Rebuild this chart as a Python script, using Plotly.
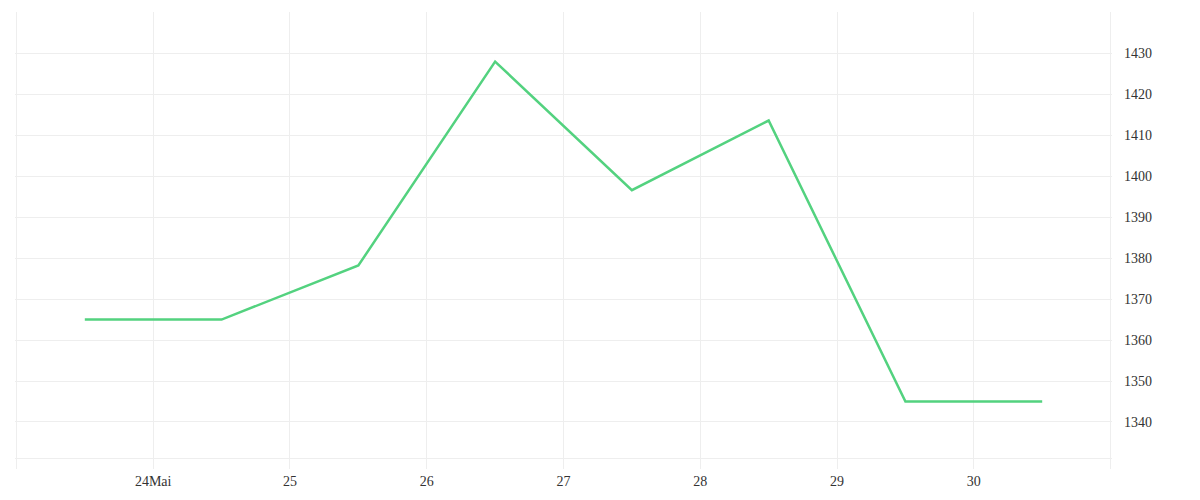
import plotly.graph_objects as go

# Données (un point par jour, à midi)
dates = ["2024-05-23 12:00", "2024-05-24 12:00", "2024-05-25 12:00", "2024-05-26 12:00",
         "2024-05-27 12:00", "2024-05-28 12:00", "2024-05-29 12:00", "2024-05-30 12:00"]
valeurs = [1365, 1365, 1378.2, 1428, 1396.6, 1413.6, 1345, 1345]

# Graduations des axes
tick_dates = ["2024-05-23", "2024-05-24", "2024-05-25", "2024-05-26", "2024-05-27",
              "2024-05-28", "2024-05-29", "2024-05-30", "2024-05-31"]
tick_labels = ["", "24Mai", "25", "26", "27", "28", "29", "30", ""]
y_ticks = [1340, 1350, 1360, 1370, 1380, 1390, 1400, 1410, 1420, 1430]

grille = "#eeeeee"
police = dict(family="Liberation Serif", size=14, color="#333333")

fig = go.Figure()
fig.add_trace(go.Scatter(
    x=dates,
    y=valeurs,
    mode="lines",
    line=dict(color="#53d27f", width=2.5),
    showlegend=False,
))

# la page ajoute 8px de marge autour de la figure
fig.update_layout(
    width=1200,
    height=500,
    paper_bgcolor="white",
    plot_bgcolor="white",
    font=police,
    margin=dict(l=7, r=96, t=4, b=50, autoexpand=False),
    xaxis=dict(
        type="date",
        range=["2024-05-22 23:45", "2024-05-31 00:15"],
        tickmode="array",
        tickvals=tick_dates,
        ticktext=tick_labels,
        showgrid=True,
        gridcolor=grille,
        gridwidth=1,
        ticks="outside",
        ticklen=10,
        tickcolor=grille,
        showline=True,
        linecolor=grille,
        zeroline=False,
        automargin=False,
    ),
    yaxis=dict(
        side="right",
        range=[1331.2, 1440.1],
        tickmode="array",
        tickvals=y_ticks,
        showgrid=True,
        gridcolor=grille,
        gridwidth=1,
        ticks="",
        ticklabelstandoff=11,
        showline=False,
        zeroline=False,
        automargin=False,
    ),
)

fig.write_html("out.html")
